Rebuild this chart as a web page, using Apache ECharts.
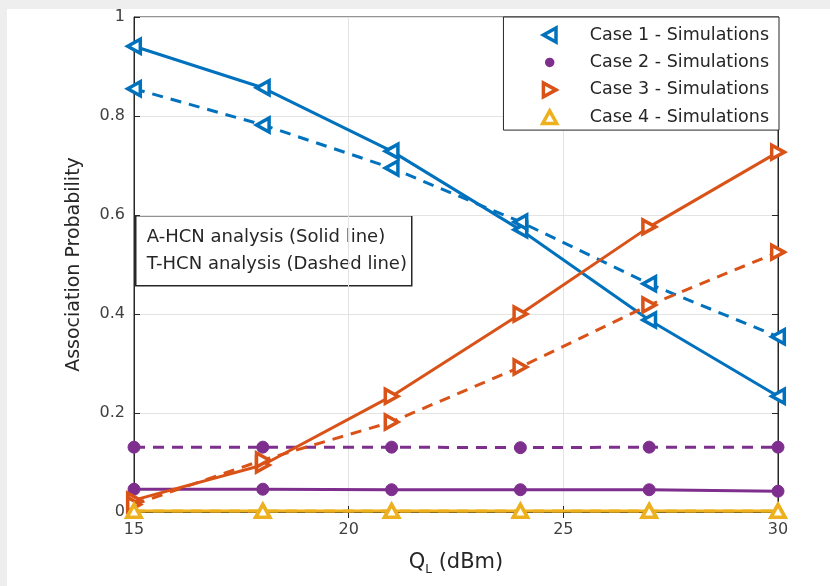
<!DOCTYPE html>
<html>
<head>
<meta charset="utf-8">
<script src="https://cdn.jsdelivr.net/npm/echarts@6/dist/echarts.min.js"></script>
<style>
  html, body { margin: 0; padding: 0; background: #fff; }
  #main { width: 830px; height: 586px; }
</style>
</head>
<body>
<div id="main"></div>
<script>
// transmit power Q_L (dBm)
const qL = [15, 18, 21, 24, 27, 30];

// solid = A-HCN analysis, dashed = T-HCN analysis
const case1Solid = [0.941, 0.857, 0.729, 0.570, 0.388, 0.234];
const case1Dashed = [0.855, 0.782, 0.695, 0.586, 0.461, 0.354];
const case2Solid = [0.046, 0.046, 0.045, 0.045, 0.045, 0.042];
const case2Dashed = [0.131, 0.131, 0.131, 0.130, 0.131, 0.131];
const case3Solid = [0.024, 0.095, 0.234, 0.400, 0.576, 0.727];
const case3Dashed = [0.015, 0.105, 0.182, 0.293, 0.418, 0.525];
const case4Solid = [0.002, 0.002, 0.002, 0.002, 0.002, 0.002];
const case4Dashed = [0.002, 0.002, 0.002, 0.002, 0.002, 0.002];

const legendNames = [
  "Case 1 - Simulations",
  "Case 2 - Simulations",
  "Case 3 - Simulations",
  "Case 4 - Simulations",
];

const BLUE = "#0072BD";
const PURPLE = "#7E2F8E";
const ORANGE = "#D95319";
const YELLOW = "#EDB120";
const FONT = "DejaVu Sans";

const LEFT_TRI = "path://M0,5L9,0L9,10Z";
const RIGHT_TRI = "path://M9,5L0,0L0,10Z";
const UP_TRI = "path://M5,0L10,9L0,9Z";

const pts = (ys) => qL.map((x, i) => [x, ys[i]]);

function mkSeries(name, ys, color, symbol, dashed, hollow, size) {
  return {
    name: name,
    type: "line",
    data: pts(ys),
    symbol: symbol,
    symbolSize: size,
    symbolKeepAspect: true,
    clip: false,
    lineStyle: { color: color, width: 3, type: dashed ? [11, 8] : "solid" },
    itemStyle: hollow
      ? { color: "#fff", borderColor: color, borderWidth: 3.5 }
      : { color: color, borderColor: color, borderWidth: 1 },
    emphasis: { disabled: true },
  };
}

const chartDom = document.getElementById("main");
const myChart = echarts.init(chartDom);

const option = {
  backgroundColor: "#fff",
  animation: false,
  textStyle: { fontFamily: FONT },
  grid: {
    left: 134,
    right: 52,
    top: 17,
    bottom: 74,
    show: true,
    borderColor: "#262626",
    borderWidth: 1,
    backgroundColor: "#fff",
  },
  legend: {
    orient: "vertical",
    right: 51,
    top: 17,
    backgroundColor: "#fff",
    borderColor: "#262626",
    borderWidth: 1,
    borderRadius: 0,
    padding: [9, 10, 4, 37],
    itemWidth: 14,
    itemHeight: 14,
    itemGap: 9.2,
    selectedMode: false,
    textStyle: {
      fontFamily: FONT,
      fontSize: 17.5,
      color: "#262626",
      padding: [0, 0, 0, 28],
    },
    data: [
      { name: legendNames[0], icon: LEFT_TRI, itemStyle: { color: "#fff", borderColor: BLUE, borderWidth: 3.5 } },
      { name: legendNames[1], icon: "circle", itemStyle: { color: PURPLE, borderColor: "#fff", borderWidth: 4.5 } },
      { name: legendNames[2], icon: RIGHT_TRI, itemStyle: { color: "#fff", borderColor: ORANGE, borderWidth: 3.5 } },
      { name: legendNames[3], icon: UP_TRI, itemStyle: { color: "#fff", borderColor: YELLOW, borderWidth: 3.5 } },
    ],
  },
  xAxis: [
    {
      type: "value",
      min: 15,
      max: 30,
      interval: 5,
      name: "{q|Q}{sub|L}{q| (dBm)}",
      nameLocation: "middle",
      nameGap: 38,
      nameTextStyle: {
        rich: {
          q: { fontFamily: FONT, fontSize: 21, color: "#262626" },
          sub: { fontFamily: FONT, fontSize: 12, color: "#262626", padding: [14, 0, 0, 0] },
        },
      },
      axisLine: { show: true, lineStyle: { color: "#262626", width: 1 } },
      axisTick: { show: true, inside: true, length: 6, lineStyle: { color: "#262626" } },
      axisLabel: { fontFamily: FONT, fontSize: 16, color: "#404040", margin: 10 },
      splitLine: { show: true, lineStyle: { color: "#e3e3e3", width: 1 } },
    },
    {
      type: "value",
      position: "top",
      min: 15,
      max: 30,
      interval: 5,
      axisLine: { show: true, lineStyle: { color: "#262626", width: 1 } },
      axisTick: { show: true, inside: true, length: 6, lineStyle: { color: "#262626" } },
      axisLabel: { show: false },
      splitLine: { show: false },
    },
  ],
  yAxis: [
    {
      type: "value",
      min: 0,
      max: 1,
      interval: 0.2,
      name: "Association Probability",
      nameLocation: "middle",
      nameGap: 50,
      nameTextStyle: { fontFamily: FONT, fontSize: 19, color: "#262626" },
      axisLine: { show: true, lineStyle: { color: "#262626", width: 1 } },
      axisTick: { show: true, inside: true, length: 6, lineStyle: { color: "#262626" } },
      axisLabel: { fontFamily: FONT, fontSize: 16, color: "#404040", margin: 9 },
      splitLine: { show: true, lineStyle: { color: "#e3e3e3", width: 1 } },
    },
    {
      type: "value",
      position: "right",
      min: 0,
      max: 1,
      interval: 0.2,
      axisLine: { show: true, lineStyle: { color: "#262626", width: 1 } },
      axisTick: { show: true, inside: true, length: 6, lineStyle: { color: "#262626" } },
      axisLabel: { show: false },
      splitLine: { show: false },
    },
  ],
  series: [
    mkSeries(legendNames[0], case1Solid, BLUE, LEFT_TRI, false, true, 14),
    mkSeries(legendNames[0], case1Dashed, BLUE, LEFT_TRI, true, true, 14),
    mkSeries(legendNames[1], case2Solid, PURPLE, "circle", false, false, 12),
    mkSeries(legendNames[1], case2Dashed, PURPLE, "circle", true, false, 12),
    mkSeries(legendNames[2], case3Solid, ORANGE, RIGHT_TRI, false, true, 14),
    mkSeries(legendNames[2], case3Dashed, ORANGE, RIGHT_TRI, true, true, 14),
    mkSeries(legendNames[3], case4Solid, YELLOW, UP_TRI, false, true, 14),
    mkSeries(legendNames[3], case4Dashed, YELLOW, UP_TRI, true, true, 14),
  ],
  graphic: [
    // light grey frame strips of the screenshot
    { type: "rect", left: 0, top: 0, shape: { width: 830, height: 9 }, style: { fill: "#eeeeee" }, silent: true },
    { type: "rect", left: 0, top: 0, shape: { width: 7, height: 586 }, style: { fill: "#eeeeee" }, silent: true },
    // annotation box
    {
      type: "group",
      left: 135,
      top: 215,
      z: 100,
      children: [
        {
          type: "rect",
          shape: { x: 0, y: 0, width: 276, height: 70 },
          style: { fill: "#fff", stroke: "#262626", lineWidth: 1.5 },
        },
        {
          type: "text",
          x: 11,
          y: 35,
          style: {
            text: "A-HCN analysis (Solid line)\nT-HCN analysis (Dashed line)",
            fontFamily: FONT,
            fontSize: 18,
            lineHeight: 27,
            fill: "#262626",
            verticalAlign: "middle",
          },
        },
      ],
    },
  ],
};

myChart.setOption(option);
</script>
</body>
</html>
